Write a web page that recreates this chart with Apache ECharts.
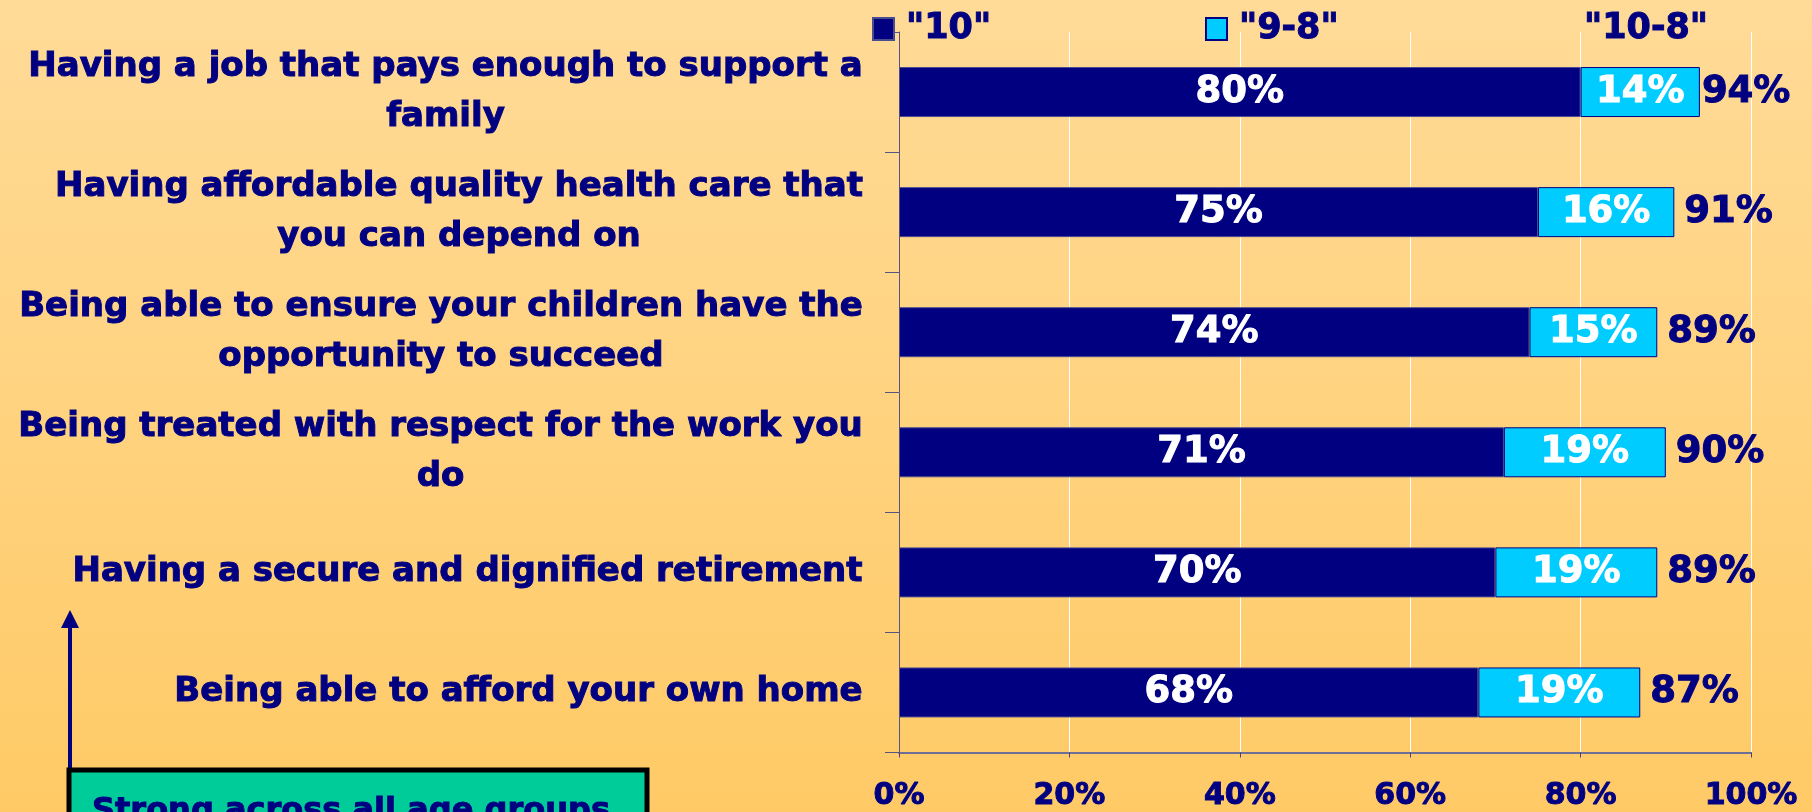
<!DOCTYPE html>
<html>
<head>
<meta charset="utf-8">
<script src="https://cdn.jsdelivr.net/npm/echarts@6/dist/echarts.min.js"></script>
<style>
    html, body { margin: 0; padding: 0; }
    #grafico { width: 1812px; height: 812px; }
</style>
</head>
<body>
<div id="grafico"></div>
<script>
const categories = [
    'Having a job that pays enough to support a\nfamily',
    'Having affordable quality health care that\nyou can depend on',
    'Being able to ensure your children have the\nopportunity to succeed',
    'Being treated with respect for the work you\ndo',
    'Having a secure and dignified retirement',
    'Being able to afford your own home'
];
const seriesNames = ['"10"', '"9-8"', '"10-8"'];
const valuesTen = [80, 75, 74, 71, 70, 68];
const valuesNineEight = [14, 16, 15, 19, 19, 19];
const valuesTotal = [94, 91, 89, 90, 89, 87];
const axisTicks = [0, 20, 40, 60, 80, 100];
const noteText = 'Strong across all age groups';

(function () {
    const navy = '#000080';
    const cyan = '#00ccff';
    const family = '"DejaVu Sans", Verdana, sans-serif';
    const labelSize = 34;

    // widths of the longest line, so the lines of each label can be centred
    const ctx = document.createElement('canvas').getContext('2d');
    ctx.font = `bold ${labelSize}px "DejaVu Sans"`;
    const lineWidth = (text) => Math.max(...text.split('\n').map(l => ctx.measureText(l).width));

    // heavier strokes, closer to the bold face of the original
    const heavy = (color) => ({ textBorderColor: color, textBorderWidth: 1 });

    const rich = {};
    categories.forEach((c, i) => {
        rich['c' + i] = Object.assign({
            width: Math.ceil(lineWidth(c)) + 2,
            align: 'center',
            color: navy,
            fontWeight: 'bold',
            fontSize: labelSize,
            fontFamily: family,
            lineHeight: 50
        }, heavy(navy));
    });

    const chart = echarts.init(document.getElementById('grafico'));

    const legendItem = (name, left) => ({
        data: [{ name: name, icon: 'rect' }],
        left: left,
        top: 6,
        itemWidth: 21,
        itemHeight: 22,
        selectedMode: false,
        textStyle: Object.assign({
            color: navy,
            fontWeight: 'bold',
            fontSize: 35,
            fontFamily: family,
            padding: [0, 0, 0, 7]
        }, heavy(navy))
    });

    const valueLabel = (color, position) => Object.assign({
        show: true,
        position: position,
        formatter: '{c}%',
        color: color,
        fontWeight: 'bold',
        fontSize: 37,
        fontFamily: family
    }, heavy(color));

    // the top total sits almost against its bar in the original
    const totalData = valuesTotal.map((v, i) => i === 0 ? { value: v, label: { distance: 2 } } : v);

    const options = {
        backgroundColor: new echarts.graphic.LinearGradient(0, 0, 0, 1, [
            { offset: 0, color: '#ffdb98' },
            { offset: 1, color: '#ffca66' }
        ]),
        animation: false,
        legend: [
            legendItem(seriesNames[0], 867),
            legendItem(seriesNames[1], 1200),
            legendItem(seriesNames[2], 1546)
        ],
        grid: { left: 899, right: 61, top: 32, bottom: 59, containLabel: false },
        xAxis: {
            type: 'value',
            min: axisTicks[0],
            max: axisTicks[axisTicks.length - 1],
            interval: axisTicks[1] - axisTicks[0],
            axisLine: { show: true, lineStyle: { color: '#6e6e96', width: 2 } },
            axisTick: { show: true, length: 5, lineStyle: { color: '#44447a' } },
            splitLine: { show: true, lineStyle: { color: '#ffffff', width: 1 } },
            axisLabel: Object.assign({
                formatter: '{value}%',
                color: navy,
                fontWeight: 'bold',
                fontSize: 30,
                fontFamily: family,
                margin: 29
            }, heavy(navy))
        },
        yAxis: {
            type: 'category',
            inverse: true,
            data: categories,
            axisLine: { show: true, lineStyle: { color: '#55557f', width: 1 } },
            axisTick: { show: true, length: 14, lineStyle: { color: '#55557f' } },
            axisLabel: {
                margin: 35,
                align: 'right',
                formatter: (value, index) => `{c${index}|${value}}`,
                rich: rich
            }
        },
        series: [
            {
                name: seriesNames[0],
                type: 'bar',
                stack: 'total',
                barWidth: 50,
                data: valuesTen,
                itemStyle: { color: navy, borderColor: '#4b4b8f', borderWidth: 1 },
                label: valueLabel('#ffffff', 'inside')
            },
            {
                name: seriesNames[1],
                type: 'bar',
                stack: 'total',
                barWidth: 50,
                data: valuesNineEight,
                itemStyle: { color: cyan, borderColor: navy, borderWidth: 1 },
                label: valueLabel('#ffffff', 'inside')
            },
            {
                name: seriesNames[2],
                type: 'bar',
                barWidth: 50,
                barGap: '-100%',
                data: totalData,
                z: 1,
                itemStyle: { color: 'rgba(0,0,0,0)' },
                label: Object.assign(valueLabel(navy, 'right'), { distance: 10 })
            }
        ],
        graphic: [
            {
                type: 'line',
                shape: { x1: 70, y1: 618, x2: 70, y2: 770 },
                style: { stroke: navy, lineWidth: 4 }
            },
            {
                type: 'polygon',
                shape: { points: [[61, 628], [70, 610], [79, 628]] },
                style: { fill: navy }
            },
            {
                type: 'rect',
                shape: { x: 69, y: 770, width: 578, height: 70 },
                style: { fill: '#00cc99', stroke: '#000000', lineWidth: 5 }
            },
            {
                type: 'text',
                x: 92,
                y: 828,
                style: {
                    text: noteText,
                    fill: navy,
                    font: `bold 32px ${family}`,
                    verticalAlign: 'bottom',
                    stroke: navy,
                    lineWidth: 1
                }
            }
        ]
    };

    chart.setOption(options);
})();
</script>
</body>
</html>
